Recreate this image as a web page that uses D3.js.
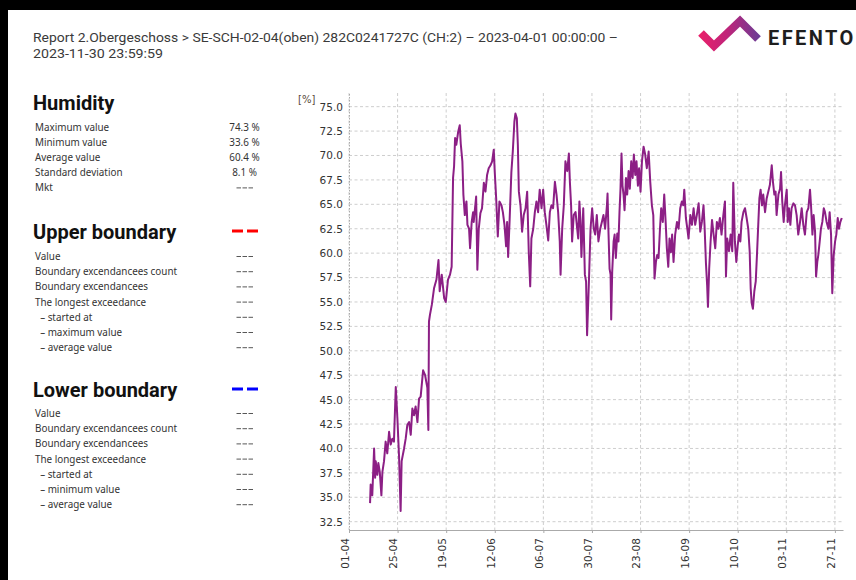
<!DOCTYPE html>
<html><head><meta charset="utf-8">
<script src="https://cdn.jsdelivr.net/npm/d3@7"></script>
<style>body{margin:0;background:#000;}svg{display:block;}</style>
</head><body>
<svg id="c" width="856" height="580"></svg>
<script>
// ---- data ----
const startDate = "2023-04-01";
const endDate = "2023-12-01";
const dayOffsets = [10.4,10.7,11.5,12.4,12.9,13.2,14.0,14.5,15.2,16.0,16.5,17.3,18.1,18.9,19.8,20.6,21.4,22.2,23.1,23.9,24.7,25.5,26.0,27.2,28.0,28.8,29.7,30.5,31.3,32.1,32.9,33.8,34.6,35.4,36.6,37.6,38.7,39.2,39.5,40.0,40.9,42.0,43.2,44.2,44.8,45.8,47.0,47.8,48.9,49.9,50.7,51.4,51.9,52.4,53.0,53.9,54.7,55.2,56.0,56.5,57.2,58.0,58.5,59.3,59.8,60.6,61.3,61.6,62.8,63.4,64.1,64.9,65.7,66.6,67.4,68.2,69.0,69.9,70.7,71.5,72.0,72.7,73.5,74.3,75.3,76.0,76.8,77.6,78.1,78.6,79.3,80.2,80.9,81.7,82.2,82.9,83.4,83.9,84.7,85.5,86.3,87.2,88.0,88.8,89.5,90.1,91.0,91.8,92.6,93.4,94.2,95.1,95.9,96.7,97.5,98.4,99.2,100.0,100.8,101.7,102.5,103.3,104.1,104.5,105.3,106.1,106.9,107.8,108.6,109.1,109.7,110.2,111.0,111.9,112.7,113.2,113.8,114.3,114.8,115.7,116.5,117.1,117.6,118.5,119.3,120.1,120.9,121.6,122.4,123.2,124.1,124.9,125.7,126.5,127.4,127.7,128.2,128.7,129.2,129.5,130.0,130.7,131.2,131.8,132.5,133.1,133.6,134.1,134.6,135.1,135.6,136.1,136.8,137.4,138.1,138.7,139.4,140.1,140.7,141.4,142.0,142.7,143.3,144.0,144.7,145.5,146.3,147.1,148.0,148.8,149.6,150.3,150.9,151.6,152.2,152.9,153.6,154.2,155.0,155.7,156.4,157.0,157.7,158.3,159.0,159.6,160.3,161.1,162.0,162.8,163.6,164.4,165.1,165.6,166.4,167.1,167.7,168.6,169.4,170.2,171.0,171.8,172.7,173.5,174.3,175.1,175.6,176.3,176.9,177.3,177.9,178.6,179.3,180.1,180.9,181.7,182.4,183.2,184.0,184.9,185.7,186.2,186.8,187.7,188.5,189.3,189.8,190.6,191.3,192.0,192.6,193.3,193.9,194.8,195.6,196.4,197.2,197.9,198.4,198.9,199.5,200.2,200.9,201.5,202.2,202.7,203.3,204.0,204.6,205.5,206.3,207.1,207.9,208.8,209.4,210.1,210.7,211.2,212.1,212.9,213.4,214.0,214.7,215.3,216.2,216.7,217.3,218.0,218.6,219.5,220.3,221.1,221.9,222.8,223.6,224.4,225.2,226.1,226.9,227.7,228.2,228.9,229.5,230.2,230.7,231.3,231.8,232.5,233.1,233.8,234.5,235.1,235.9,236.8,237.4,238.1,238.7,239.4,240.1,240.7,241.4,242.0,242.7,243.4];
const humidity = [34.4,36.3,35.2,40.0,37.0,38.7,37.3,38.5,37.6,35.2,37.6,38.7,40.7,39.5,41.7,40.4,41.0,40.7,46.3,43.1,39.3,33.6,38.7,40.0,41.0,42.4,42.7,41.4,44.1,43.4,44.3,42.7,45.1,45.3,48.0,47.5,46.2,41.9,53.0,53.7,54.7,56.4,57.3,59.3,56.1,57.8,55.4,55.0,57.3,57.8,58.6,67.7,68.9,71.8,71.1,72.4,73.1,71.2,69.4,66.0,63.9,65.3,62.9,62.5,60.5,63.2,64.2,63.2,65.8,58.3,62.5,64.1,64.6,67.2,66.3,68.0,68.7,69.0,69.4,70.6,68.3,65.6,61.7,65.3,64.9,64.2,62.9,60.7,63.2,59.6,63.2,68.3,70.4,73.5,74.3,73.8,71.1,66.3,64.9,62.2,63.9,64.6,66.3,60.1,56.6,61.5,62.5,64.2,65.3,64.2,66.5,64.6,66.5,64.2,62.9,61.3,64.2,64.9,64.6,67.3,66.0,64.2,61.2,57.8,62.5,64.9,69.4,68.4,70.2,67.3,64.9,61.2,63.9,64.2,62.5,61.5,65.3,63.4,59.6,64.6,57.8,57.1,51.6,57.1,62.5,64.6,62.5,61.9,63.9,61.2,62.5,63.2,63.9,62.5,64.9,66.1,61.9,58.4,57.8,53.2,58.1,61.2,61.9,59.5,62.0,61.2,64.2,66.6,70.2,66.9,66.0,64.4,67.7,66.0,68.4,66.6,69.4,67.7,70.1,68.0,69.4,66.9,68.7,66.3,69.4,70.9,70.1,68.7,70.4,67.3,64.9,63.9,57.4,59.1,59.8,59.5,62.5,64.6,63.2,66.0,63.2,60.5,58.6,61.5,60.1,61.9,59.1,61.9,63.2,62.5,64.6,65.3,64.9,66.5,63.6,62.5,61.5,63.9,62.9,64.6,62.9,63.9,65.1,62.2,63.2,64.9,62.9,59.0,56.7,54.5,58.4,61.2,63.4,61.9,60.5,63.2,62.5,63.6,61.9,63.9,65.3,57.6,61.5,60.2,61.9,60.2,67.2,61.2,59.1,60.8,61.9,61.2,63.2,64.2,64.6,63.6,62.5,60.2,56.4,54.9,54.3,56.1,57.1,59.8,63.2,65.6,66.5,64.9,66.0,64.2,65.6,66.3,67.0,69.0,67.3,66.0,66.3,63.9,66.0,66.6,68.3,65.3,63.2,64.9,66.5,63.2,64.6,62.9,64.6,65.1,64.9,63.9,61.9,63.2,64.6,62.9,61.9,64.2,64.6,66.5,64.9,61.9,63.9,62.2,57.6,59.1,59.8,61.2,62.5,63.2,64.6,64.2,63.2,62.5,64.2,61.9,55.9,59.8,61.2,61.9,63.6,62.5,63.2,63.6];
const yTicks = [32.5,35.0,37.5,40.0,42.5,45.0,47.5,50.0,52.5,55.0,57.5,60.0,62.5,65.0,67.5,70.0,72.5,75.0];
const xTickDates = ["2023-04-01","2023-04-25","2023-05-19","2023-06-12","2023-07-06","2023-07-30","2023-08-23","2023-09-16","2023-10-10","2023-11-03","2023-11-27"];
const yDomain = [31.65, 76.4];

const titleLines = ["Report 2.Obergeschoss > SE-SCH-02-04(oben) 282C0241727C (CH:2) \u2013 2023-04-01 00:00:00 \u2013", "2023-11-30 23:59:59"];
const humidityRows = ["Maximum value","Minimum value","Average value","Standard deviation","Mkt"];
const humidityValues = ["74.3 %","33.6 %","60.4 %","8.1 %","---"];
const upperRows = ["Value","Boundary excendancees count","Boundary excendancees","The longest exceedance","  \u2013 started at","  \u2013 maximum value","  \u2013 average value"];
const upperValues = ["---","---","---","---","---","---","---"];
const lowerRows = ["Value","Boundary excendancees count","Boundary excendancees","The longest exceedance","  \u2013 started at","  \u2013 minimum value","  \u2013 average value"];
const lowerValues = ["---","---","---","---","---","---","---"];

// ---- drawing ----
const svg = d3.select("#c");
svg.append("rect").attr("x",0).attr("y",0).attr("width",856).attr("height",580).attr("fill","#000");
svg.append("rect").attr("x",8).attr("y",10).attr("width",848).attr("height",570).attr("fill","#fff");

// header
const hdr = svg.append("g").attr("font-family","Roboto, 'Liberation Sans', sans-serif").attr("font-size",13).attr("fill","#3a3a3a");
hdr.append("text").attr("x",33).attr("y",42).attr("textLength",585).attr("lengthAdjust","spacingAndGlyphs").text(titleLines[0]);
hdr.append("text").attr("x",33).attr("y",58).attr("textLength",130).attr("lengthAdjust","spacingAndGlyphs").text(titleLines[1]);

// logo
const defs = svg.append("defs");
const lg = defs.append("linearGradient").attr("id","lg").attr("gradientUnits","userSpaceOnUse")
  .attr("x1",700).attr("x2",760).attr("y1",0).attr("y2",0);
lg.append("stop").attr("offset","0").attr("stop-color","#e8206a");
lg.append("stop").attr("offset","0.45").attr("stop-color","#c0247a");
lg.append("stop").attr("offset","1").attr("stop-color","#6a3c95");
svg.append("polyline").attr("points","701,33 714,46 740,21 758,39")
  .attr("fill","none").attr("stroke","url(#lg)").attr("stroke-width",8).attr("stroke-linejoin","miter").attr("stroke-miterlimit",10);
svg.append("text").attr("x",768).attr("y",45).attr("font-family","Roboto, sans-serif").attr("font-weight",700)
  .attr("font-size",20).attr("letter-spacing",2.4).attr("fill","#1e1e1e").text("EFENTO");

// left panel
const panel = svg.append("g");
function section(title, y0, rows, vals, rowY0, rowStep, dashColor){
  panel.append("text").attr("x",33).attr("y",y0).attr("font-family","Roboto, sans-serif").attr("font-weight",700)
    .attr("font-size",20).attr("fill","#111").text(title);
  if(dashColor){
    [[232,243],[247,258]].forEach(s=>panel.append("line").attr("x1",s[0]).attr("x2",s[1]).attr("y1",y0-8).attr("y2",y0-8)
      .attr("stroke",dashColor).attr("stroke-width",3));
  }
  rows.forEach((r,i)=>{
    panel.append("text").attr("x",35).attr("y",rowY0+i*rowStep).attr("font-family","'Noto Sans', sans-serif")
      .attr("font-size",9.9).attr("fill","#333").attr("xml:space","preserve").text(r);
    if(vals[i]==="---"){
      [0,1,2].forEach(k=>panel.append("line").attr("x1",236.5+k*6).attr("x2",236.5+k*6+4.5)
        .attr("y1",rowY0+i*rowStep-3.5).attr("y2",rowY0+i*rowStep-3.5).attr("stroke","#444").attr("stroke-width",0.9));
    } else {
      panel.append("text").attr("x",244.5).attr("y",rowY0+i*rowStep).attr("text-anchor","middle").attr("font-family","'Noto Sans', sans-serif")
        .attr("font-size",9.9).attr("fill","#333").text(vals[i]);
    }
  });
}
section("Humidity",110,humidityRows,humidityValues,131,15.1,null);
section("Upper boundary",239,upperRows,upperValues,260,15.2,"#ff0000");
section("Lower boundary",397,lowerRows,lowerValues,417,15.2,"#0000ff");

// chart
const parse = d3.utcParse("%Y-%m-%d");
const t0 = parse(startDate), t1 = parse(endDate);
const x = d3.scaleUtc().domain([t0,t1]).range([349,843]);
const y = d3.scaleLinear().domain(yDomain).range([530,93]);
const tickDates = xTickDates.map(parse);
const g = svg.append("g");

// grid
g.selectAll(".hg").data(yTicks).join("line").attr("x1",349).attr("x2",843).attr("y1",d=>y(d)).attr("y2",d=>y(d))
  .attr("stroke","#c8c8c8").attr("stroke-width",0.9).attr("stroke-dasharray","3,2.5");
g.selectAll(".vg").data(tickDates).join("line").attr("x1",d=>x(d)).attr("x2",d=>x(d)).attr("y1",93).attr("y2",530)
  .attr("stroke","#c8c8c8").attr("stroke-width",0.9).attr("stroke-dasharray","3,2.5");

// axes
const yAxis = d3.axisLeft(y).tickValues(yTicks).tickFormat(d3.format(".1f")).tickSize(0).tickPadding(6);
const ya = g.append("g").attr("transform","translate(349,0)").call(yAxis);
ya.select(".domain").attr("stroke","#aaa").attr("stroke-dasharray","1.5,1.5");
ya.selectAll("text").attr("font-family","'DejaVu Sans', sans-serif").attr("font-size",10.5).attr("fill","#333");

const xAxis = d3.axisBottom(x).tickValues(tickDates).tickFormat(d3.utcFormat("%d-%m")).tickSize(3).tickSizeOuter(0);
const xa = g.append("g").attr("transform","translate(0,530)").call(xAxis);
xa.select(".domain").attr("stroke","#aaa").attr("stroke-width",1.2);
xa.selectAll(".tick line").attr("stroke","#aaa");
xa.selectAll("text").attr("font-family","'DejaVu Sans', sans-serif").attr("font-size",10.5).attr("fill","#333")
  .attr("transform","rotate(-90)").attr("text-anchor","end").attr("dx","-0.4em").attr("dy","-0.35em").attr("x",-4).attr("y",0)
  .style("dominant-baseline","middle");

g.append("text").attr("x",298).attr("y",103).attr("font-family","'DejaVu Sans', sans-serif").attr("font-size",10)
  .attr("fill","#5a4a3c").text("[%]");

// line
const pts = dayOffsets.map((d,i)=>[new Date(t0.getTime()+d*86400000), humidity[i]]);
const line = d3.line().x(d=>x(d[0])).y(d=>y(d[1]));
g.append("path").datum(pts).attr("d",line).attr("fill","none").attr("stroke","#8c1f85").attr("stroke-width",2)
  .attr("stroke-linejoin","round");
</script>
</body></html>
